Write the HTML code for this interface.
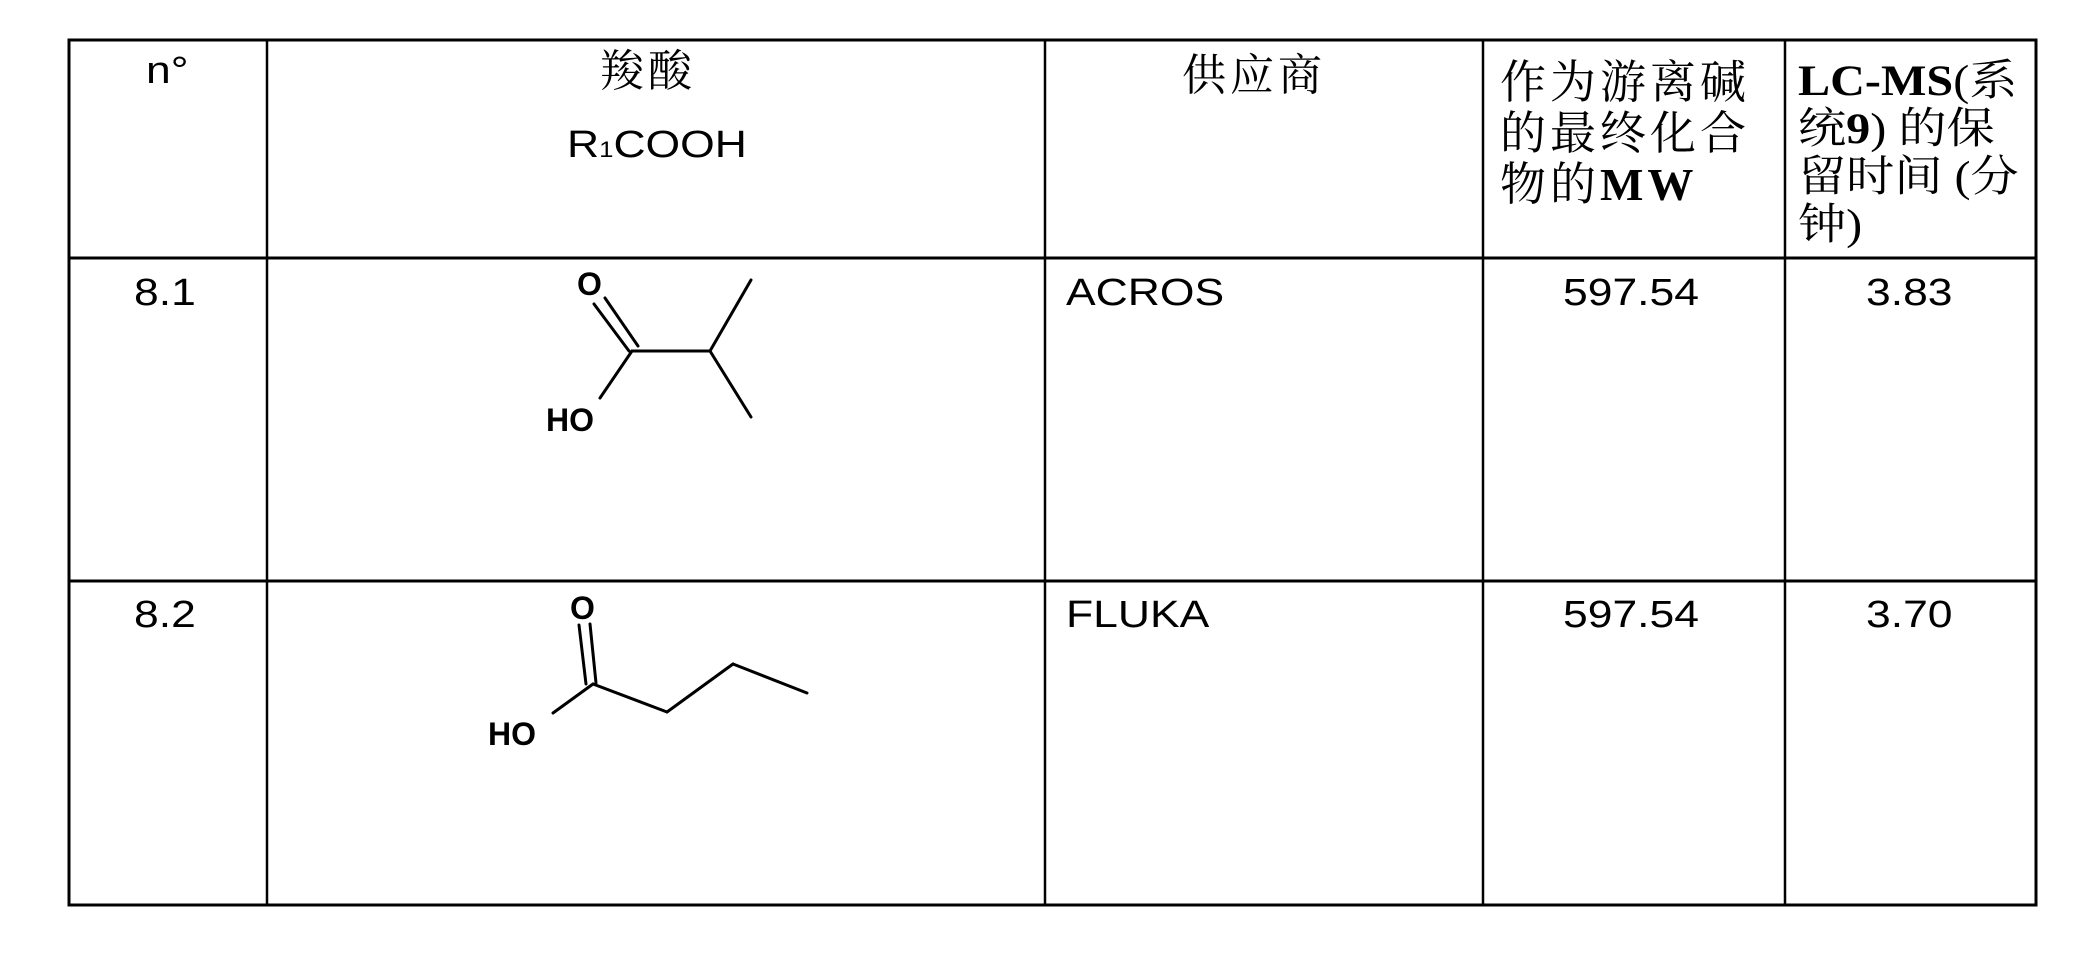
<!DOCTYPE html>
<html><head><meta charset="utf-8"><style>
html,body{margin:0;padding:0;background:#fff;}
body{width:2076px;height:980px;position:relative;overflow:hidden;font-family:"Liberation Sans","Noto Sans CJK SC",sans-serif;color:#000;}
.t{position:absolute;white-space:nowrap;line-height:1;transform-origin:0 0;}
.w{transform:scaleX(1.17);}
.cj{font-family:"Liberation Serif","Noto Serif CJK SC",serif;}
svg{position:absolute;left:0;top:0;}
</style></head><body>
<svg width="2076" height="980" viewBox="0 0 2076 980">
<g stroke="#000" stroke-width="2.5" fill="none">
<rect x="69" y="40" width="1967" height="865" stroke-width="3"/>
<line x1="69" y1="258" x2="2036" y2="258" stroke-width="3"/>
<line x1="69" y1="581" x2="2036" y2="581" stroke-width="3"/>
<line x1="267" y1="40" x2="267" y2="905"/>
<line x1="1045" y1="40" x2="1045" y2="905"/>
<line x1="1483" y1="40" x2="1483" y2="905"/>
<line x1="1785" y1="40" x2="1785" y2="905"/>
</g>
<g stroke="#000" stroke-width="3" fill="none" stroke-linecap="round">
<line x1="594" y1="304" x2="629" y2="351"/>
<line x1="605" y1="298" x2="638" y2="346"/>
<line x1="632" y1="351" x2="710" y2="351"/>
<line x1="710" y1="351" x2="751" y2="280"/>
<line x1="710" y1="351" x2="751" y2="417"/>
<line x1="632" y1="351" x2="600" y2="398"/>
<line x1="579" y1="625" x2="586" y2="684"/>
<line x1="590" y1="624" x2="596" y2="683"/>
<line x1="593" y1="684" x2="553" y2="713"/>
<line x1="593" y1="684" x2="667" y2="712"/>
<line x1="667" y1="712" x2="733" y2="664"/>
<line x1="733" y1="664" x2="807" y2="693"/>
</g>
</svg>

<div class="t w" style="left:146px;top:52px;font-size:38px;">n°</div>
<div class="t cj" style="left:600px;top:50px;font-size:44px;letter-spacing:4px;">羧酸</div>
<div class="t w" style="left:567px;top:126px;font-size:38px;">R<span style="font-size:22px;">1</span>COOH</div>
<div class="t cj" style="left:1182px;top:54px;font-size:44px;letter-spacing:4px;">供应商</div>
<div class="t cj" style="left:1500px;top:57px;font-size:46px;line-height:51px;letter-spacing:4px;">作为游离碱<br>的最终化合<br>物的<b>MW</b></div>
<div class="t cj" style="left:1798px;top:58px;font-size:43px;line-height:48px;transform:scaleX(1.12);">
<b>LC-MS</b>(系<br>统<b>9</b>) 的保<br>留时间 (分<br>钟)</div>

<div class="t w" style="left:134px;top:274px;font-size:38px;">8.1</div>
<div class="t w" style="left:1066px;top:274px;font-size:38px;">ACROS</div>
<div class="t w" style="left:1563px;top:274px;font-size:38px;">597.54</div>
<div class="t w" style="left:1866px;top:274px;font-size:38px;">3.83</div>

<div class="t w" style="left:134px;top:596px;font-size:38px;">8.2</div>
<div class="t w" style="left:1066px;top:596px;font-size:38px;">FLUKA</div>
<div class="t w" style="left:1563px;top:596px;font-size:38px;">597.54</div>
<div class="t w" style="left:1866px;top:596px;font-size:38px;">3.70</div>

<div class="t" style="left:577px;top:268px;font-size:32px;font-weight:bold;">O</div>
<div class="t" style="left:546px;top:404px;font-size:32px;font-weight:bold;">HO</div>
<div class="t" style="left:570px;top:592px;font-size:32px;font-weight:bold;">O</div>
<div class="t" style="left:488px;top:718px;font-size:32px;font-weight:bold;">HO</div>
</body></html>
